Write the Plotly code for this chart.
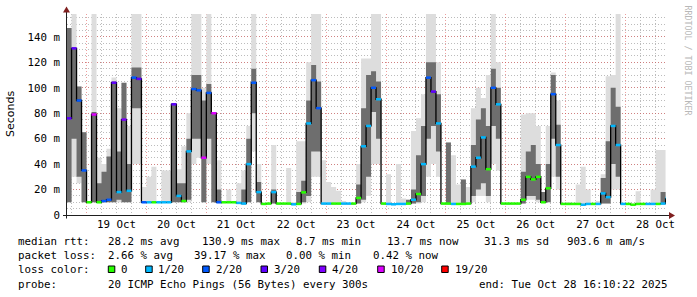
import plotly.graph_objects as go
import pandas as pd

# ---------------- data ----------------
times = pd.date_range("2025-10-18 16:00", periods=121, freq="2h")
t_start = "2025-10-18 16:10:22"
t_end = "2025-10-28 16:10:22"

median = [76, 131, 90, 35, 10, 79, 10, 11, 12, 104,
          18, 75, 19, 108, 107, 10, 10, 10, 10, 10,
          10, 87, 15, 11, 50, 99, 98, 45, 96, 80,
          10, 10, 10, 10, 9.5, 9, 40, 104, 18, 8.7,
          9, 18, 9, 9, 9, 8.4, 8.7, 17.8, 72, 106,
          84, 9, 9, 9, 9, 9, 9, 9, 13.4, 54,
          70, 100, 91, 9, 8.7, 8.4, 8.7, 8.7, 9, 12,
          16.5, 40, 108, 97, 72, 9, 9, 8.7, 8.7, 8.7,
          9, 38, 45, 61, 36, 100, 87, 9, 9, 9,
          9, 12, 30, 28, 30, 10, 21, 95, 55, 8.7,
          8.7, 8.7, 8.7, 8.1, 8.7, 8.7, 8.7, 17, 14, 70,
          55, 8.7, 8.7, 8.1, 8.7, 8.7, 8.7, 8.7, 8.7, 9, 13.4]

loss = [3, 3, 2, 2, 0, 10, 0, 2, 2, 3,
        1, 4, 1, 2, 3, 2, 1, 0, 1, 1,
        1, 3, 1, 0, 1, 2, 2, 10, 2, 10,
        2, 0, 0, 0, 1, 1, 1, 2, 1, 0,
        0, 1, 0, 0, 0, 1, 0, 0, 1, 2,
        2, 1, 1, 0, 0, 1, 1, 0, 0, 1,
        1, 2, 1, 0, 1, 1, 1, 1, 0, 1,
        0, 1, 2, 3, 1, 0, 0, 1, 0, 0,
        0, 1, 1, 1, 0, 2, 1, 0, 0, 0,
        0, 0, 0, 0, 0, 0, 0, 2, 1, 0,
        0, 0, 0, 1, 1, 0, 1, 1, 1, 1,
        1, 1, 0, 0, 0, 0, 1, 1, 0, 1, 1]

smoke_hi = [147, 158, 101, 65, 10, 158, 45, 40, 52, 108,
            84, 104, 70, 158, 158, 22, 30, 38, 10, 35,
            35, 88, 36, 54, 80, 158, 158, 100, 158, 80,
            43, 10, 20, 10, 25, 35, 70, 158, 40, 8.7,
            9, 55, 9, 9, 37, 10, 58, 58, 120, 158,
            158, 43, 26, 22, 19, 11, 9, 9, 40, 123,
            123, 158, 158, 9, 32, 8.4, 40, 13, 12, 66,
            76, 95, 158, 158, 120, 9, 57, 47, 24, 28,
            22, 84, 100, 92, 110, 158, 120, 9, 9, 9,
            9, 79, 80, 80, 70, 18, 70, 112, 90, 8.7,
            10, 8.7, 24, 38, 20, 8.7, 11, 32, 109, 110,
            158, 8.7, 8.7, 8.1, 18.6, 8.7, 8.7, 20, 51, 51, 20]

smoke_lo = [10, 30, 25, 10, 10, 10, 10, 10, 10, 10,
            10, 10, 10, 40, 40, 10, 10, 10, 10, 10,
            10, 10, 10, 10, 10, 40, 45, 10, 40, 10,
            10, 10, 10, 10, 9.5, 9, 10, 50, 10, 8.7,
            9, 9, 9, 9, 9, 8.4, 8.7, 9, 10, 30,
            30, 9, 9, 9, 9, 9, 9, 9, 9, 10,
            15, 40, 40, 9, 8.7, 8.4, 8.7, 8.7, 9, 9,
            9, 10, 30, 40, 30, 9, 9, 8.7, 8.7, 8.7,
            9, 10, 15, 15, 10, 40, 35, 9, 9, 9,
            9, 9, 12, 12, 10, 10, 10, 30, 20, 8.7,
            8.7, 8.7, 8.7, 8.1, 8.7, 8.7, 8.7, 9, 9, 20,
            20, 8.7, 8.7, 8.1, 8.7, 8.7, 8.7, 8.7, 8.7, 8.7, 13.4]

core_hi = [147, 131, 101, 65, 10, 81, 25, 34, 46, 105,
           50, 104, 40, 116, 116, 10, 10, 10, 10, 10,
           10, 88, 25, 25, 60, 110, 110, 90, 103, 80,
           20, 10, 10, 10, 9.5, 20, 60, 115, 26, 8.7,
           9, 20, 9, 9, 9, 8.4, 18, 27, 90, 118,
           105, 9, 9, 9, 9, 9, 9, 9, 24, 84,
           110, 113, 105, 9, 8.7, 8.4, 8.7, 8.7, 12, 20,
           47, 70, 120, 120, 95, 9, 57, 8.7, 8.7, 28,
           9, 55, 75, 84, 70, 115, 100, 9, 9, 9,
           9, 34, 50, 55, 40, 18, 40, 110, 71, 8.7,
           8.7, 8.7, 8.7, 8.1, 8.7, 8.7, 8.7, 29, 58, 100,
           85, 8.7, 8.7, 8.1, 8.7, 8.7, 8.7, 8.7, 8.7, 18, 17]

core_lo = [10, 60, 30, 10, 10, 10, 10, 10, 10, 10,
           12, 10, 10, 84, 84, 10, 10, 10, 10, 10,
           10, 10, 10, 10, 12, 60, 60, 10, 60, 10,
           10, 10, 10, 10, 9.5, 9, 10, 80, 10, 8.7,
           9, 9, 9, 9, 9, 8.4, 8.7, 10, 15, 50,
           50, 9, 9, 9, 9, 9, 9, 9, 9, 12,
           30, 81, 60, 9, 8.7, 8.4, 8.7, 8.7, 9, 9,
           10, 15, 60, 70, 50, 9, 9, 8.7, 8.7, 8.7,
           9, 15, 20, 25, 15, 70, 60, 9, 9, 9,
           9, 9, 15, 15, 12, 10, 10, 60, 30, 8.7,
           8.7, 8.7, 8.7, 8.1, 8.7, 8.7, 8.7, 9, 9, 40,
           30, 8.7, 8.7, 8.1, 8.7, 8.7, 8.7, 8.7, 8.7, 8.7, 13.4]

loss_levels = [0, 1, 2, 3, 4, 10, 19]
loss_labels = ["0", "1/20", "2/20", "3/20", "4/20", "10/20", "19/20"]
loss_colors = ["#26ff00", "#00b8ff", "#0059ff", "#5e00ff", "#7e00ff", "#dd00ff", "#ff0000"]

y_tickvals = [0, 20, 40, 60, 80, 100, 120, 140]
y_ticktext = ["0", "20 m", "40 m", "60 m", "80 m", "100 m", "120 m", "140 m"]

legend_rows = [
    ["median rtt:", "28.2 ms avg", "130.9 ms max", "8.7 ms min", "13.7 ms now", "31.3 ms sd", "903.6 m am/s"],
    ["packet loss:", "2.66 % avg", "39.17 % max", "0.00 % min", "0.42 % now"],
    ["probe:", "20 ICMP Echo Pings (56 Bytes) every 300s", "end: Tue Oct 28 16:10:22 2025"],
]

# ---------------- geometry ----------------
W, H = 697, 297
L, R, T, B = 67, 31, 14, 82
PW, PH = W - L - R, H - T - B
BOTTOM = H - B


def px(x):
    return (x - L) / PW


def py(y):
    return (BOTTOM - y) / PH


MONO = "DejaVu Sans Mono"
FS = 10.8

fig = go.Figure()

# light smoke
fig.add_trace(go.Scatter(x=times, y=smoke_lo, mode="lines", line=dict(width=0, shape="hv"),
                         hoverinfo="skip"))
fig.add_trace(go.Scatter(x=times, y=smoke_hi, mode="lines", line=dict(width=0, shape="hv"),
                         fill="tonexty", fillcolor="#dddddd", hoverinfo="skip"))
# dark smoke
fig.add_trace(go.Scatter(x=times, y=core_lo, mode="lines", line=dict(width=0, shape="hv"),
                         hoverinfo="skip"))
fig.add_trace(go.Scatter(x=times, y=core_hi, mode="lines", line=dict(width=0, shape="hv"),
                         fill="tonexty", fillcolor="#6e6e6e", hoverinfo="skip"))
# median
fig.add_trace(go.Scatter(x=times, y=median, mode="lines",
                         line=dict(width=1.3, shape="hv", color="#000000")))

# loss coloured median segments
ends = list(times[1:]) + [pd.Timestamp(t_end)]
for lvl, col in zip(loss_levels, loss_colors):
    xs, ys = [], []
    for t0, t1, m, ls in zip(times, ends, median, loss):
        if ls == lvl:
            xs += [t0, t1, None]
            ys += [m, m, None]
    if xs:
        fig.add_trace(go.Scatter(x=xs, y=ys, mode="lines", line=dict(width=2.5, color=col)))

grid_major = "rgba(222,80,80,0.55)"
grid_minor = "rgba(143,143,143,0.6)"
DASH = "1px,2px"

fig.update_xaxes(
    type="date", range=[t_start, t_end],
    tickmode="linear", tick0="2025-10-19", dtick=86400000,
    ticklabelmode="period", tickformat="%d %b",
    showgrid=True, gridcolor=grid_major, griddash=DASH, gridwidth=1,
    minor=dict(tickmode="linear", tick0="2025-10-19", dtick=6 * 3600000,
               showgrid=True, gridcolor=grid_minor, griddash=DASH, gridwidth=1),
    showline=False, zeroline=False, ticks="",
    tickfont=dict(family=MONO, size=FS, color="#000000"),
    ticklabelstandoff=1,
)
fig.update_yaxes(
    range=[0, 158], tickmode="array", tickvals=y_tickvals, ticktext=y_ticktext,
    showgrid=True, gridcolor=grid_major, griddash=DASH, gridwidth=1,
    minor=dict(tickmode="linear", tick0=0, dtick=5,
               showgrid=True, gridcolor=grid_minor, griddash=DASH, gridwidth=1),
    showline=False, zeroline=False, ticks="",
    tickfont=dict(family=MONO, size=FS, color="#000000"),
    ticklabelstandoff=6,
)

shapes = []
axis_col = "#1f1f1f"
arrow_col = "#7f1f1f"
# axis lines
shapes.append(dict(type="line", xref="paper", yref="paper",
                   x0=px(66.5), x1=px(66.5), y0=py(218.5), y1=py(11), line=dict(color=axis_col, width=1)))
shapes.append(dict(type="line", xref="paper", yref="paper",
                   x0=px(63), x1=px(670), y0=py(215.5), y1=py(215.5), line=dict(color=axis_col, width=1)))
# arrows
shapes.append(dict(type="path", xref="paper", yref="paper",
                   path=f"M {px(66.5)} {py(6.5)} L {px(63)} {py(12.5)} L {px(70)} {py(12.5)} Z",
                   fillcolor=arrow_col, line=dict(width=0)))
shapes.append(dict(type="path", xref="paper", yref="paper",
                   path=f"M {px(675)} {py(215.5)} L {px(669)} {py(212)} L {px(669)} {py(219)} Z",
                   fillcolor=arrow_col, line=dict(width=0)))

annotations = []


def text(x, y, s, **kw):
    d = dict(xref="paper", yref="paper", x=px(x), y=py(y), text=s, showarrow=False,
             xanchor="left", yanchor="middle", borderpad=0,
             font=dict(family=MONO, size=FS, color="#000000"))
    d.update(kw)
    annotations.append(d)


# legend lines
row_y = [241, 255.5, 284]
row_x = [
    [16.7, 107, 201, 295, 386, 483, 566],
    [16.7, 107, 193, 285, 372],
    [16.7, 107, 478],
]
for items, xs, yy in zip(legend_rows, row_x, row_y):
    for s, xx in zip(items, xs):
        text(xx, yy, s)

# loss color row
text(16.7, 269.5, "loss color:")
box_x = [108.3, 145.7, 202.7, 261, 319.3, 377.7, 441.7]
lab_x = [120, 157.3, 215, 273.3, 331, 390, 454]
for bx, lx, col, lab in zip(box_x, lab_x, loss_colors, loss_labels):
    shapes.append(dict(type="rect", xref="paper", yref="paper",
                       x0=px(bx), x1=px(bx + 6.5), y0=py(272.5), y1=py(266),
                       fillcolor=col, line=dict(color="#000000", width=1)))
    text(lx, 269.5, lab)

# y axis title
annotations.append(dict(xref="paper", yref="paper", x=px(10.5), y=py(114.5), text="Seconds",
                        showarrow=False, textangle=-90, xanchor="center", yanchor="middle",
                        font=dict(family="DejaVu Sans", size=11, color="#000000")))
# watermark
annotations.append(dict(xref="paper", yref="paper", x=px(687.5), y=py(60), text="RRDTOOL / TOBI OETIKER",
                        showarrow=False, textangle=90, xanchor="center", yanchor="middle",
                        font=dict(family=MONO, size=8.3, color="#b8b8b8")))

fig.update_layout(
    width=W, height=H, margin=dict(l=L, r=R, t=T, b=B),
    paper_bgcolor="#ffffff", plot_bgcolor="#ffffff",
    showlegend=False, shapes=shapes, annotations=annotations,
)

fig.write_html("out.html")
